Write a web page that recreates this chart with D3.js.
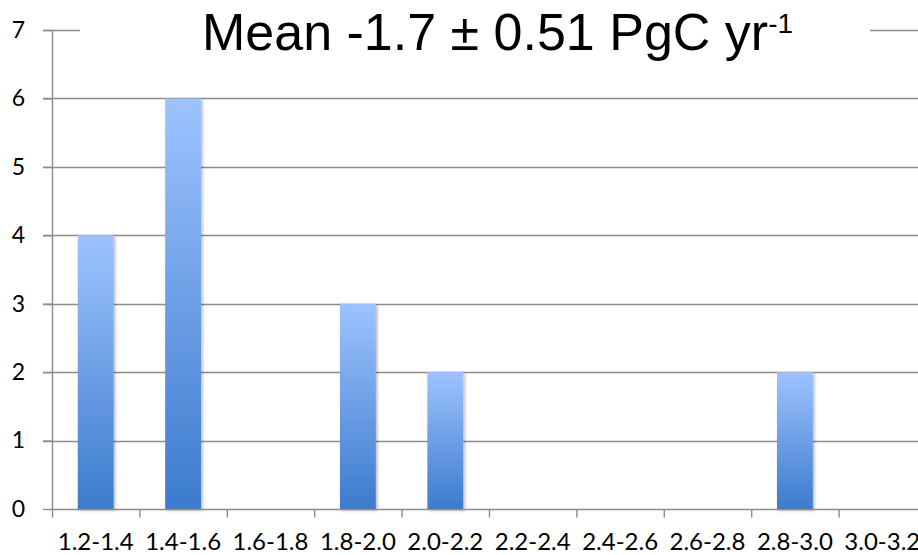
<!DOCTYPE html>
<html>
<head>
<meta charset="utf-8">
<script src="https://cdn.jsdelivr.net/npm/d3@7/dist/d3.min.js"></script>
<style>
  html, body { margin: 0; padding: 0; background: #fff; }
  svg { display: block; }
</style>
</head>
<body>
<script>
const categories = ["1.2-1.4","1.4-1.6","1.6-1.8","1.8-2.0","2.0-2.2","2.2-2.4","2.4-2.6","2.6-2.8","2.8-3.0","3.0-3.2"];
const counts = [4, 6, 0, 3, 2, 0, 0, 0, 2, 0];
const yTicks = [0, 1, 2, 3, 4, 5, 6, 7];
const titleMain = "Mean -1.7 \u00B1 0.51 PgC yr";
const titleSup = "-1";

const W = 918, H = 555;
const margin = { left: 52, top: 30, bottom: 46 };
const plotRight = 926;

const svg = d3.select("body").append("svg").attr("width", W).attr("height", H);
const defs = svg.append("defs");
const grad = defs.append("linearGradient").attr("id", "barGrad")
  .attr("x1", 0).attr("y1", 0).attr("x2", 0).attr("y2", 1);
grad.append("stop").attr("offset", "0%").attr("stop-color", "#9dc3ff");
grad.append("stop").attr("offset", "100%").attr("stop-color", "#3c7bcd");
const shadow = defs.append("filter").attr("id", "shadow")
  .attr("x", "-20%").attr("y", "-5%").attr("width", "150%").attr("height", "115%");
shadow.append("feDropShadow").attr("dx", 1.5).attr("dy", 1.5).attr("stdDeviation", 1.6)
  .attr("flood-color", "#000").attr("flood-opacity", 0.3);

const x = d3.scaleBand().domain(categories).range([margin.left, plotRight]).padding(0);
const y = d3.scaleLinear().domain([0, 7]).range([H - margin.bottom, margin.top]);

const lineColor = "#8c8c8c";

// gridlines
svg.append("g").selectAll("line").data(yTicks.filter(d => d > 0)).join("line")
  .attr("x1", margin.left - 9).attr("x2", W)
  .attr("y1", d => Math.round(y(d)) + 0.5).attr("y2", d => Math.round(y(d)) + 0.5)
  .attr("stroke", lineColor).attr("stroke-width", 1.4);

// title with white background
const titleG = svg.append("g");
const titleBg = titleG.append("rect").attr("fill", "#fff");
const title = titleG.append("text")
  .attr("x", 202).attr("y", 50)
  .attr("font-family", "'Liberation Sans', Arial, sans-serif")
  .attr("font-size", 52).attr("fill", "#000");
title.append("tspan").text(titleMain);
title.append("tspan").attr("font-size", 28).attr("dy", -17).text(titleSup);
titleBg.attr("x", 80).attr("y", 0).attr("width", 790).attr("height", 60);

// y axis ticks labels
const yAxis = svg.append("g").attr("transform", `translate(${margin.left},0)`)
  .call(d3.axisLeft(y).tickValues(yTicks).tickSize(9).tickPadding(18).tickFormat(d3.format("d")));
yAxis.select(".domain").remove();
yAxis.selectAll(".tick line").attr("stroke", lineColor).attr("stroke-width", 1.4);
yAxis.selectAll(".tick text").attr("font-family", "Lato, 'Open Sans', sans-serif")
  .attr("font-size", 23).attr("fill", "#000");

// y axis line
svg.append("line").attr("x1", margin.left + 0.5).attr("x2", margin.left + 0.5)
  .attr("y1", y(7)).attr("y2", y(0))
  .attr("stroke", lineColor).attr("stroke-width", 1.4);

// bars
svg.append("g").selectAll("rect").data(categories.map((c, i) => ({ c, v: counts[i] })).filter(d => d.v > 0))
  .join("rect")
  .attr("x", d => x(d.c) + x.bandwidth() * 0.295)
  .attr("width", x.bandwidth() * 0.41)
  .attr("y", d => y(d.v))
  .attr("height", d => y(0) - y(d.v))
  .attr("fill", "url(#barGrad)")
  .attr("filter", "url(#shadow)");

// x axis
const xAxis = svg.append("g").attr("transform", `translate(0,${Math.round(y(0)) + 0.5})`);
xAxis.append("line").attr("x1", margin.left).attr("x2", W).attr("y1", 0).attr("y2", 0)
  .attr("stroke", lineColor).attr("stroke-width", 1.4);
xAxis.selectAll("line.tk").data(categories).join("line").attr("class", "tk")
  .attr("x1", d => x(d) + 0.5).attr("x2", d => x(d) + 0.5)
  .attr("y1", 0).attr("y2", 8)
  .attr("stroke", lineColor).attr("stroke-width", 1.4);
xAxis.selectAll("text").data(categories).join("text")
  .attr("x", d => x(d) + x.bandwidth() / 2)
  .attr("y", 40)
  .attr("text-anchor", "middle")
  .attr("font-family", "Lato, 'Open Sans', sans-serif")
  .attr("font-size", 24).attr("fill", "#000")
  .text(d => d);
</script>
</body>
</html>
